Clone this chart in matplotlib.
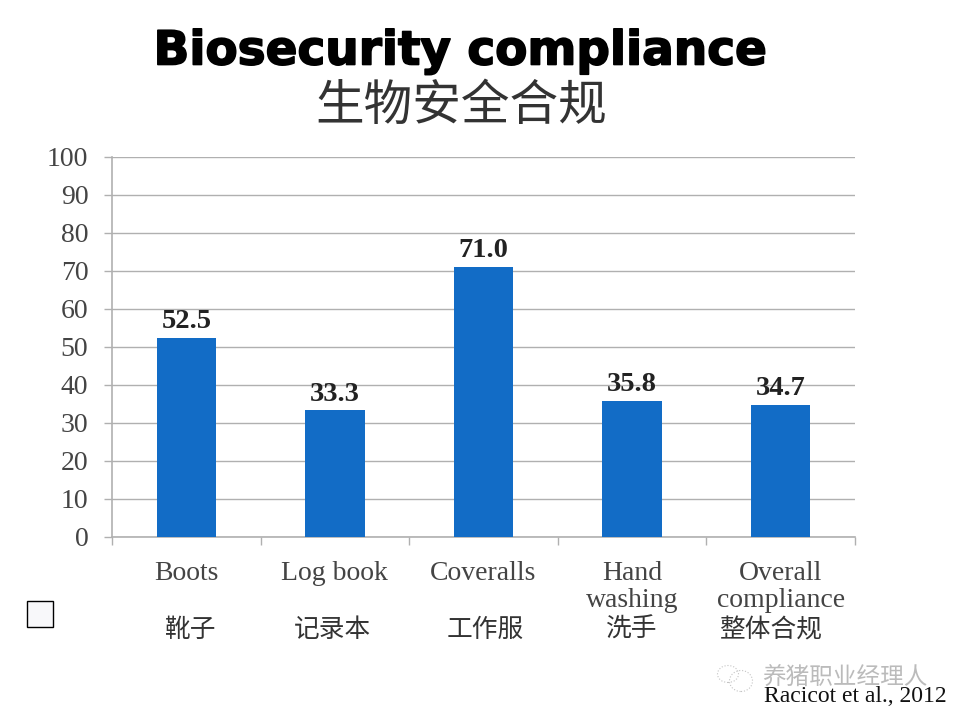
import matplotlib
matplotlib.use('Agg')
import matplotlib.pyplot as plt
import matplotlib.patheffects as pe
from matplotlib.patches import Rectangle, Ellipse

categories = ['Boots', 'Log book', 'Coveralls', 'Hand\nwashing', 'Overall\ncompliance']
categories_cn = ['靴子', '记录本', '工作服', '洗手', '整体合规']
values = [52.5, 33.3, 71.0, 35.8, 34.7]
yticks = list(range(0, 101, 10))

W, H = 960, 720
SERIF = ['Liberation Serif', 'DejaVu Serif']
CJK = ['Noto Sans CJK SC', 'DejaVu Sans']
GREY = '#b0b0b0'


def fx(px):
    return px / W


def fy(py):
    return 1 - py / H


fig = plt.figure(figsize=(9.6, 7.2), dpi=100, facecolor='white')
ax = fig.add_axes([fx(112), fy(537), fx(855 - 112), (537 - 157) / H])

x = list(range(len(values)))
bars = ax.bar(x, values, width=0.4, color='#126cc6', zorder=3)
for b, v in zip(bars, values):
    ax.text(b.get_x() + b.get_width() / 2, v + 1.0, f'{v:.1f}', ha='center', va='bottom',
            fontsize=20.5, fontweight='bold', family=SERIF, color='#222222')

ax.set_xlim(-0.5, len(values) - 0.5)
ax.set_ylim(0, 100)
ax.set_yticks(yticks)
ax.set_yticklabels([str(t) for t in yticks], family=SERIF, fontsize=20, color='#444444')
ax.yaxis.grid(True, color=GREY, linewidth=1.0, zorder=0)
ax.set_axisbelow(True)
for s in ['top', 'right']:
    ax.spines[s].set_visible(False)
for s in ['left', 'bottom']:
    ax.spines[s].set_color(GREY)
    ax.spines[s].set_linewidth(1.2)
ax.tick_params(axis='y', length=6, width=1.0, color=GREY, pad=11)

# category boundaries carry the ticks, labels sit between them
ax.set_xticks([i - 0.5 for i in range(len(values) + 1)])
ax.set_xticklabels([])
ax.tick_params(axis='x', length=6, width=1.0, color=GREY)
ax.set_xticks(x, minor=True)
ax.set_xticklabels(categories, minor=True, family=SERIF, fontsize=20, color='#444444',
                   linespacing=1.15, va='top')
ax.tick_params(axis='x', which='minor', length=0, pad=17)

# title
fig.text(fx(461), fy(52), 'Biosecurity compliance', ha='center', va='center', fontsize=33.8,
         fontweight='bold', family='DejaVu Sans', color='black',
         path_effects=[pe.withStroke(linewidth=1.2, foreground='black')])
fig.text(fx(461), fy(106), '生物安全合规', ha='center', va='center', fontsize=35,
         family=CJK, color='#333333')

# chinese labels under the axis
cn_x = [191, 332, 485, 631, 771]
for px, t in zip(cn_x, categories_cn):
    fig.text(fx(px), fy(630), t, ha='center', va='center', fontsize=18.5,
             family=CJK, color='#333333')

# small empty box at the left
fig.add_artist(Rectangle((fx(26.5), fy(627)), 26 / W, 26 / H, transform=fig.transFigure,
                         facecolor='#f8f8fa', edgecolor='black', linewidth=1.0))

# watermark
for cx, cy, w, h in [(728, 674, 21, 17), (741, 681, 23, 21)]:
    fig.add_artist(Ellipse((fx(cx), fy(cy)), w / W, h / H, transform=fig.transFigure,
                           facecolor='none', edgecolor='#c4c4c4', linewidth=0.8, linestyle=':'))
fig.text(fx(845), fy(677), '养猪职业经理人', ha='center', va='center', fontsize=17,
         family=CJK, color='#bbbbbb')

fig.text(fx(855), fy(697), 'Racicot et al., 2012', ha='center', va='center', fontsize=17,
         family=SERIF, color='#111111')

fig.savefig('out.png', dpi=100)
